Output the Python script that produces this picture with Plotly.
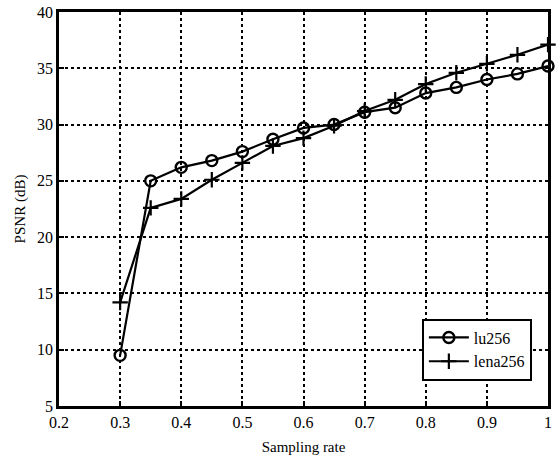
import plotly.graph_objects as go

sampling_rate = [0.3, 0.35, 0.4, 0.45, 0.5, 0.55, 0.6, 0.65, 0.7, 0.75, 0.8, 0.85, 0.9, 0.95, 1.0]
lu256 = [9.5, 25.0, 26.2, 26.8, 27.6, 28.7, 29.7, 30.0, 31.1, 31.5, 32.8, 33.3, 34.0, 34.5, 35.2]
lena256 = [14.2, 22.6, 23.4, 25.1, 26.6, 28.1, 28.8, 29.9, 31.2, 32.2, 33.6, 34.6, 35.4, 36.2, 37.1]

x_ticks = [0.2, 0.3, 0.4, 0.5, 0.6, 0.7, 0.8, 0.9, 1.0]
x_tick_labels = ["0.2", "0.3", "0.4", "0.5", "0.6", "0.7", "0.8", "0.9", "1"]
y_ticks = [5, 10, 15, 20, 25, 30, 35, 40]

FONT = "Liberation Serif, Times New Roman, serif"

fig = go.Figure()
fig.add_trace(go.Scatter(
    x=sampling_rate, y=lu256, name="lu256", mode="lines+markers",
    line=dict(color="black", width=2.2),
    marker=dict(symbol="circle-open", size=11, color="black", line=dict(width=2.4)),
    cliponaxis=False,
))
fig.add_trace(go.Scatter(
    x=sampling_rate, y=lena256, name="lena256", mode="lines+markers",
    line=dict(color="black", width=2.2),
    marker=dict(symbol="cross-thin-open", size=11, color="black", line=dict(width=2.2)),
    cliponaxis=False,
))

axis_common = dict(
    showline=True, linecolor="black", linewidth=2.5, mirror=True,
    showgrid=True, gridcolor="black", griddash="dot", gridwidth=1.5,
    ticks="inside", ticklen=5, tickcolor="black", tickwidth=2,
    zeroline=False,
    tickfont=dict(family=FONT, size=16, color="black"),
)

fig.update_xaxes(range=[0.2, 1.0], tickvals=x_ticks, ticktext=x_tick_labels,
                 title=dict(text="Sampling rate", font=dict(family=FONT, size=15, color="black"), standoff=12),
                 **axis_common)
fig.update_yaxes(range=[5, 40], tickvals=y_ticks,
                 title=dict(text="PSNR (dB)", font=dict(family=FONT, size=15, color="black"), standoff=8),
                 **axis_common)

fig.update_layout(
    width=556, height=462,
    margin=dict(l=59, r=4, t=10, b=56),
    paper_bgcolor="white", plot_bgcolor="white",
    showlegend=True,
    legend=dict(
        x=0.967, y=0.222, xanchor="right", yanchor="top",
        bgcolor="white", bordercolor="black", borderwidth=2,
        font=dict(family=FONT, size=16, color="black"),
        tracegroupgap=0, itemwidth=40,
    ),
)

fig.write_html("out.html", config={"displayModeBar": False},
               post_script="document.body.style.margin='0';document.body.style.overflow='hidden';")
